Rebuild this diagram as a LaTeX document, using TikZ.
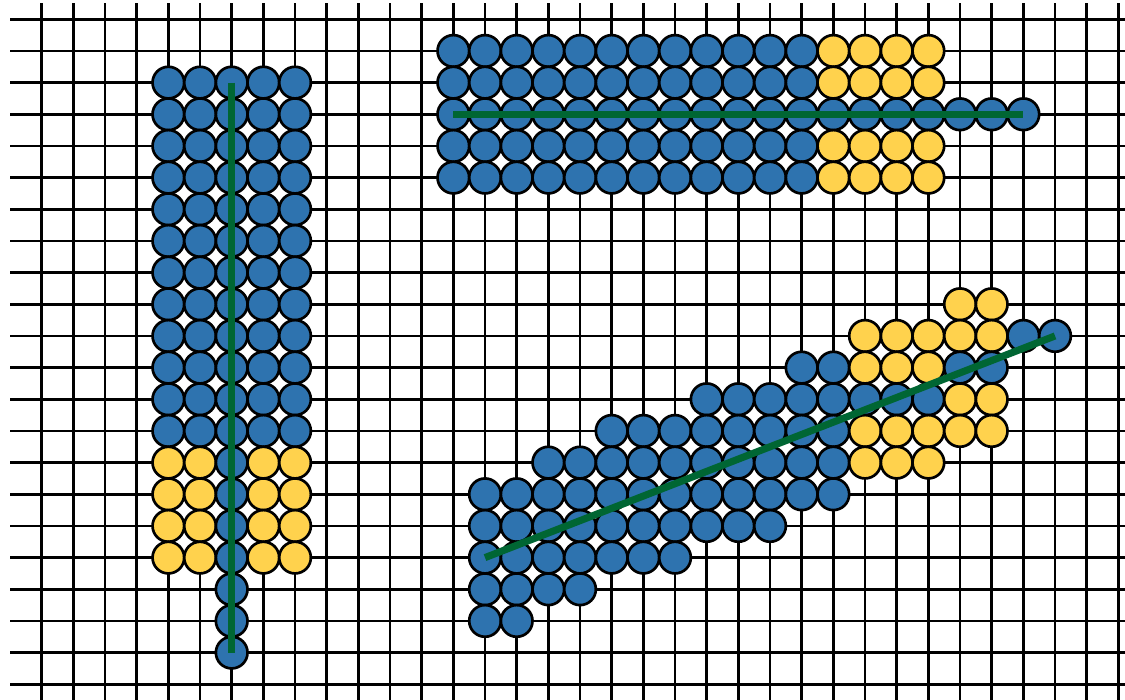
\documentclass[tikz,border=0pt]{standalone}
\usepackage{tikz}
\usetikzlibrary{positioning}
\definecolor{coinblue}{RGB}{46,115,175}
\definecolor{coingold}{RGB}{255,210,77}
\definecolor{axisgreen}{RGB}{0,102,51}

\begin{document}
\begin{tikzpicture}[x=0.5cm,y=-0.5cm,
    gridline/.style={black,line width=1.15pt},
    dot/.style={circle,draw=black,line width=1.2pt,minimum size=0.5cm,inner sep=0pt},
    dotblue/.style={dot,fill=coinblue},
    dotgold/.style={dot,fill=coingold},
    spine/.style={axisgreen,line width=3.2pt}]
  \useasboundingbox (-1.317,-0.609) rectangle (34.21,21.49);
  \foreach \j in {0,...,21}
    \draw[gridline] (-1,\j)--(34.21,\j);
  \foreach \i in {0,...,34}
    \draw[gridline] (\i,-0.5)--(\i,21.49);
  \foreach \ia/\ib/\ja/\jb/\col in {
      4/8/2/13/blue, 4/5/14/17/gold, 6/6/14/20/blue, 7/8/14/17/gold,
      13/24/1/5/blue, 25/28/1/2/gold, 25/31/3/3/blue, 25/28/4/5/gold,
      29/30/9/9/gold, 26/30/10/10/gold, 31/32/10/10/blue,
      24/25/11/11/blue, 26/28/11/11/gold, 29/30/11/11/blue,
      21/28/12/12/blue, 29/30/12/12/gold,
      18/25/13/13/blue, 26/30/13/13/gold,
      16/25/14/14/blue, 26/28/14/14/gold,
      14/25/15/15/blue, 14/23/16/16/blue, 14/20/17/17/blue,
      14/17/18/18/blue, 14/15/19/19/blue}{
    \foreach \i in {\ia,...,\ib}{
      \foreach \j in {\ja,...,\jb}{
        \node[dot\col] (c\i-\j) at (\i,\j) {};
      }
    }
  }
  \draw[spine] (c6-2.center)--(c6-20.center);
  \draw[spine] (c13-3.center)--(c31-3.center);
  \draw[spine] (c14-17.center)--(c32-10.center);
\end{tikzpicture}
\end{document}
